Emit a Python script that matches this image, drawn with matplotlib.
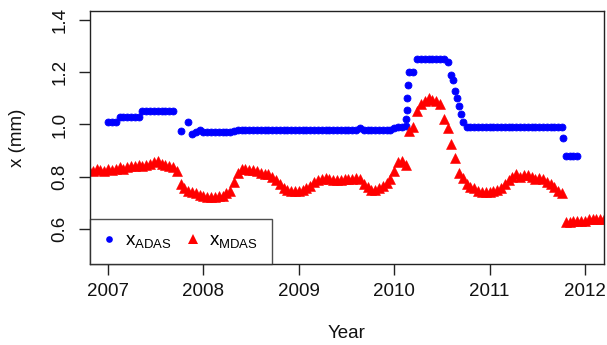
import numpy as np
import matplotlib
matplotlib.use("Agg")
import matplotlib.pyplot as plt
from matplotlib.lines import Line2D

plt.rcParams["font.family"] = ["Liberation Sans", "DejaVu Sans"]
plt.rcParams["mathtext.fontset"] = "custom"
plt.rcParams["mathtext.rm"] = "Liberation Sans"
plt.rcParams["mathtext.it"] = "Liberation Sans"
plt.rcParams["mathtext.bf"] = "Liberation Sans:bold"

# ---- data -------------------------------------------------------------
# x_ADAS sampled every 0.04 year starting 2007.00 (nan = no sample)
adas_start, adas_step = 2007.00, 0.04
adas_values = [
    1.01, 1.01, 1.01, 1.03, 1.03, 1.03, 1.03, 1.03, 1.03, 1.05,
    1.05, 1.05, 1.05, 1.05, 1.05, 1.05, 1.05, 1.05, np.nan, 0.975,
    np.nan, 1.01, 0.965, 0.97, 0.98, 0.97, 0.97, 0.97, 0.97, 0.97,
    0.97, 0.97, 0.97, 0.975, 0.98, 0.98, 0.98, 0.98, 0.98, 0.98,
    0.98, 0.98, 0.98, 0.98, 0.98, 0.98, 0.98, 0.98, 0.98, 0.98,
    0.98, 0.98, 0.98, 0.98, 0.98, 0.98, 0.98, 0.98, 0.98, 0.98,
    0.98, 0.98, 0.98, 0.98, 0.98, 0.98, 0.985, 0.98, 0.98, 0.98,
    0.98, 0.98, 0.98, 0.98, 0.98, 0.985, 0.99, 0.99, 0.995, 1.20,
    1.20, 1.25, 1.25, 1.25, 1.25, 1.25, 1.25, 1.25, 1.25, 1.24,
    1.19, 1.13, 1.07, 1.01, 0.99, 0.99, 0.99, 0.99, 0.99, 0.99,
    0.99, 0.99, 0.99, 0.99, 0.99, 0.99, 0.99, 0.99, 0.99, 0.99,
    0.99, 0.99, 0.99, 0.99, 0.99, 0.99, 0.99, 0.99, 0.99, 0.99,
    0.88, 0.88, 0.88, 0.88,
]
# additional x_ADAS samples during the fast changes
adas_extra_years = [2010.125, 2010.13, 2010.135, 2010.14, 2010.62, 2010.66, 2010.70, 2011.77]
adas_extra_values = [1.02, 1.055, 1.10, 1.15, 1.17, 1.10, 1.04, 0.95]

# x_MDAS sampled every 0.04 year starting 2006.80
mdas_start, mdas_step = 2006.80, 0.04
mdas_values = [
    0.825, 0.82, 0.83, 0.825, 0.82, 0.83, 0.825, 0.83, 0.835, 0.83,
    0.835, 0.84, 0.84, 0.845, 0.84, 0.845, 0.85, 0.855, 0.86, 0.85,
    0.845, 0.84, 0.835, 0.82, 0.77, 0.755, 0.745, 0.74, 0.735, 0.73,
    0.725, 0.72, 0.72, 0.72, 0.725, 0.725, 0.735, 0.745, 0.78, 0.815,
    0.83, 0.83, 0.825, 0.825, 0.82, 0.815, 0.81, 0.81, 0.80, 0.785,
    0.77, 0.755, 0.75, 0.745, 0.745, 0.745, 0.75, 0.755, 0.765, 0.78,
    0.785, 0.79, 0.795, 0.79, 0.785, 0.785, 0.785, 0.79, 0.79, 0.79,
    0.795, 0.79, 0.77, 0.76, 0.75, 0.75, 0.755, 0.765, 0.775, 0.79,
    0.82, 0.855, 0.86, 0.845, 0.975, 0.99, 1.05, 1.08, 1.09, 1.10,
    1.095, 1.09, 1.08, 1.02, 0.985, 0.925, 0.87, 0.815, 0.795, 0.77,
    0.76, 0.755, 0.745, 0.74, 0.74, 0.74, 0.745, 0.75, 0.755, 0.77,
    0.785, 0.80, 0.81, 0.80, 0.805, 0.805, 0.80, 0.79, 0.795, 0.79,
    0.78, 0.77, 0.76, 0.745, 0.735, 0.625, 0.625, 0.63, 0.63, 0.63,
    0.63, 0.635, 0.635, 0.635, 0.635, 0.635,
]

year_ticks = [2007, 2008, 2009, 2010, 2011, 2012]
x_ticks = [0.6, 0.8, 1.0, 1.2, 1.4]

adas_years = adas_start + adas_step * np.arange(len(adas_values))
mdas_years = mdas_start + mdas_step * np.arange(len(mdas_values))

# ---- figure -----------------------------------------------------------
fig = plt.figure(figsize=(6.07, 3.45), dpi=100)
ax = fig.add_axes([90 / 607, 81 / 345, 514 / 607, 253 / 345])

blue = "#0000ff"
red = "#ff0000"
dot_kw = dict(linestyle="none", marker="o", markersize=5.0, color=blue,
              markeredgewidth=0.6, markeredgecolor=blue)
tri_kw = dict(linestyle="none", marker="^", markersize=7.4, color=red,
              markeredgewidth=0.4, markeredgecolor=red)

ax.plot(adas_years, adas_values, **dot_kw)
ax.plot(adas_extra_years, adas_extra_values, **dot_kw)
ax.plot(mdas_years, mdas_values, **tri_kw)

ax.set_xlim(2006.81, 2012.2)
ax.set_ylim(0.464, 1.436)
ax.set_xticks(year_ticks)
ax.set_xticklabels([str(y) for y in year_ticks])
ax.set_yticks(x_ticks)
ax.set_yticklabels([f"{v:.1f}" for v in x_ticks])

for s in ax.spines.values():
    s.set_linewidth(1.0)
    s.set_color("#222222")

ax.tick_params(axis="both", length=8, width=1.0, color="#222222",
               labelsize=13.5, labelcolor="#111111")
ax.tick_params(axis="x", pad=5.5)
ax.tick_params(axis="y", pad=7.5)
for lbl in ax.get_yticklabels():
    lbl.set_rotation(90)
    lbl.set_va("center")
    lbl.set_ha("right")

ax.set_xlabel("Year", fontsize=13.5, color="#111111")
ax.xaxis.set_label_coords(0.5, -0.275)
ax.xaxis.label.set_va("center")
ax.set_ylabel("x (mm)", fontsize=13.5, color="#111111")
ax.yaxis.set_label_coords(-0.142, 0.5)
ax.yaxis.label.set_va("center")

legend_dot = dict(dot_kw, markersize=4.8, markeredgewidth=0)
legend_tri = dict(tri_kw, markersize=6.8, markeredgewidth=0)
handles = [Line2D([], [], **legend_dot), Line2D([], [], **legend_tri)]
leg = ax.legend(handles, [r"$\mathrm{x}_{\mathrm{ADAS}}$", r"$\mathrm{x}_{\mathrm{MDAS}}$"],
                loc="lower left", bbox_to_anchor=(0, 0), borderaxespad=0,
                ncol=2, fontsize=13.5, frameon=True, fancybox=False,
                borderpad=0.72, handlelength=0.6, handletextpad=0.55,
                columnspacing=0.85, numpoints=1)
leg.get_frame().set_edgecolor("#222222")
leg.get_frame().set_linewidth(1.0)

fig.savefig("out.png", dpi=100)
